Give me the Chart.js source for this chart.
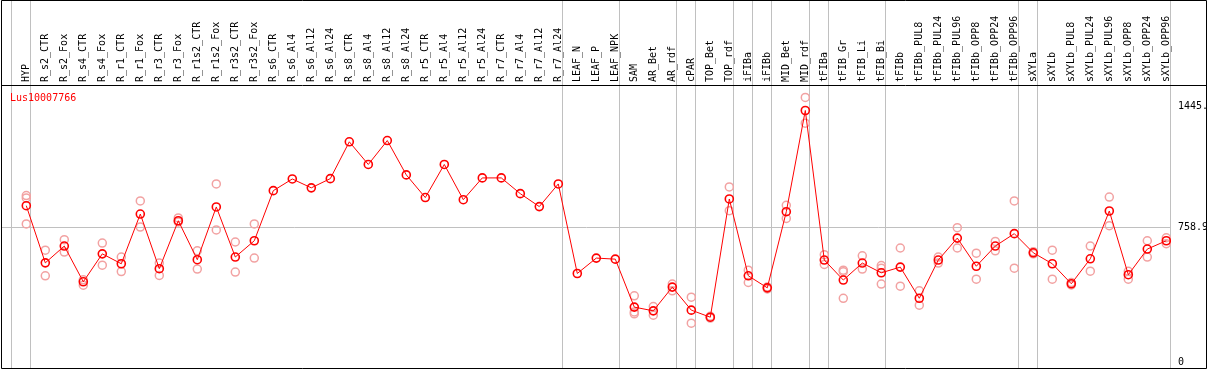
<!DOCTYPE html>
<html>
<head>
<meta charset="utf-8">
<script src="https://cdn.jsdelivr.net/npm/chart.js@4"></script>
<style>
  body { margin: 0; background: #fff; }
  canvas { display: block; }
</style>
</head>
<body>
<canvas id="chart" width="1209" height="370"></canvas>
<script>
const geneName = 'Lus10007766';

const categories = [
  'HYP', 'R_s2_CTR', 'R_s2_Fox', 'R_s4_CTR', 'R_s4_Fox', 'R_r1_CTR', 'R_r1_Fox', 'R_r3_CTR', 'R_r3_Fox',
  'R_r1s2_CTR', 'R_r1s2_Fox', 'R_r3s2_CTR', 'R_r3s2_Fox', 'R_s6_CTR', 'R_s6_Al4', 'R_s6_Al12', 'R_s6_Al24',
  'R_s8_CTR', 'R_s8_Al4', 'R_s8_Al12', 'R_s8_Al24', 'R_r5_CTR', 'R_r5_Al4', 'R_r5_Al12', 'R_r5_Al24',
  'R_r7_CTR', 'R_r7_Al4', 'R_r7_Al12', 'R_r7_Al24', 'LEAF_N', 'LEAF_P', 'LEAF_NPK', 'SAM', 'AR_Bet', 'AR_rdf',
  'cPAR', 'TOP_Bet', 'TOP_rdf', 'iFIBa', 'iFIBb', 'MID_Bet', 'MID_rdf', 'tFIBa', 'tFIB_Gr', 'tFIB_Li', 'tFIB_Bi',
  'tFIBb', 'tFIBb_PUL8', 'tFIBb_PUL24', 'tFIBb_PUL96', 'tFIBb_OPP8', 'tFIBb_OPP24', 'tFIBb_OPP96',
  'sXYLa', 'sXYLb', 'sXYLb_PUL8', 'sXYLb_PUL24', 'sXYLb_PUL96', 'sXYLb_OPP8', 'sXYLb_OPP24', 'sXYLb_OPP96'
];

const means = [
  883, 560, 655, 453, 611, 555, 836, 527, 798, 578, 876, 593, 685,
  968, 1034, 984, 1036, 1244, 1116, 1251, 1057, 929, 1116, 917, 1040, 1040, 951, 878, 1006,
  500, 587, 581, 310, 289, 423, 293, 253, 921, 487, 419, 849, 1421,
  576, 463, 559, 504, 536, 360, 576, 700, 541, 655, 725,
  617, 555, 442, 583, 853, 493, 638, 685
];

const rep1 = [
  940, 632, 691, 464, 672, 593, 910, 559, 814, 628, 1006, 678, 780,
  null, null, null, null, null, null, null, null, null, null, null, null, null, null, null, null,
  null, null, null, 374, 313, 440, 366, 258, 989, 519, 424, 885, 1495,
  606, 519, 600, 545, 644, 402, 593, 759, 615, 681, 910,
  623, 632, 449, 655, 932, 512, 685, 702
];
const rep2 = [
  927, 487, 621, 434, 547, 511, 762, 489, 791, 525, 746, 508, 587,
  null, null, null, null, null, null, null, null, null, null, null, null, null, null, null, null,
  null, null, null, 283, 264, 402, 219, 248, 855, 449, 413, 811, 1349,
  551, 360, 525, 530, 428, 321, 559, 644, 468, 628, 530,
  611, 468, 435, 513, 770, 468, 593, 668
];
const rep3 = [
  780, null, null, null, null, null, null, null, null, null, null, null, null,
  null, null, null, null, null, null, null, null, null, null, null, null, null, null, null, null,
  null, null, null, 272, null, null, null, null, null, null, null, null, null,
  null, 510, null, 440, null, null, null, null, null, null, null,
  null, null, null, null, null, null, null, null
];

const yTicks = [0, 758.9, 1445.8];
// gray separators sit just right of these category indices
const groupEnds = [-1, 0, 28, 31, 34, 35, 37, 38, 39, 41, 42, 45, 52, 53, 60];

const monoFont = 'DejaVu Sans Mono';
const toPoints = arr => arr.map((v, i) => ({ x: i, y: v })).filter(p => p.y !== null);

const framePlugin = {
  id: 'frame',
  beforeDatasetsDraw(chart) {
    const { ctx, chartArea, scales } = chart;
    ctx.save();
    ctx.strokeStyle = '#c0c0c0';
    ctx.lineWidth = 1;
    groupEnds.forEach(i => {
      const x = Math.round(scales.x.getPixelForValue(i) + 4) + 0.5;
      ctx.beginPath();
      ctx.moveTo(x, 0);
      ctx.lineTo(x, chartArea.bottom);
      ctx.stroke();
    });
    ctx.restore();
  },
  afterDraw(chart) {
    const { ctx, chartArea } = chart;
    ctx.save();
    ctx.fillStyle = '#fff';
    ctx.fillRect(1207, 0, 10, chart.height);
    ctx.strokeStyle = '#000';
    ctx.lineWidth = 1;
    ctx.beginPath();
    ctx.rect(1.5, 0.5, 1205, Math.round(chartArea.bottom));
    ctx.moveTo(1, chartArea.top + 0.5);
    ctx.lineTo(1207, chartArea.top + 0.5);
    ctx.stroke();
    ctx.fillStyle = '#ff0000';
    ctx.font = '10px "' + monoFont + '"';
    ctx.textBaseline = 'alphabetic';
    ctx.fillText(geneName, 10, chartArea.top + 16);
    ctx.restore();
  }
};

const repStyle = {
  showLine: false,
  pointRadius: 4,
  pointBorderWidth: 1.5,
  pointBorderColor: '#f2a2a2',
  pointBackgroundColor: 'rgba(0,0,0,0)',
  order: 1
};

new Chart(document.getElementById('chart'), {
  type: 'scatter',
  data: {
    datasets: [
      { label: 'mean', data: toPoints(means), showLine: true, borderColor: '#ff0000', borderWidth: 1,
        pointRadius: 4, pointBorderWidth: 1.6, pointBorderColor: '#ff0000',
        pointBackgroundColor: 'rgba(0,0,0,0)', order: 0 },
      { label: 'rep1', data: toPoints(rep1), ...repStyle },
      { label: 'rep2', data: toPoints(rep2), ...repStyle },
      { label: 'rep3', data: toPoints(rep3), ...repStyle }
    ]
  },
  options: {
    responsive: false,
    animation: false,
    layout: { autoPadding: false, padding: { left: 2, bottom: 2, top: 0, right: 0 } },
    plugins: { legend: { display: false }, tooltip: { enabled: false } },
    scales: {
      x: {
        type: 'linear', position: 'top',
        min: (2 - 26.3) / 19, max: (1171 - 26.3) / 19,
        afterBuildTicks: s => { s.ticks = categories.map((c, i) => ({ value: i })); },
        afterFit: s => { s.height = 85; s.paddingLeft = 0; s.paddingRight = 0; },
        grid: { display: false, drawTicks: false },
        border: { display: false },
        ticks: { autoSkip: false, minRotation: 90, maxRotation: 90, padding: 3, labelOffset: 12,
                 color: '#000', font: { family: monoFont, size: 10 }, callback: v => categories[v] }
      },
      y: {
        position: 'right', min: -34, max: 1565,
        afterBuildTicks: s => { s.ticks = yTicks.map(v => ({ value: v })); },
        afterFit: s => { s.width = 38; s.paddingTop = 0; s.paddingBottom = 0; },
        grid: { drawTicks: false, color: c => (c.tick && c.tick.value === 758.9) ? '#c0c0c0' : 'rgba(0,0,0,0)' },
        border: { display: false },
        ticks: { padding: 7, color: '#000', font: { family: monoFont, size: 10 }, callback: v => String(v) }
      }
    }
  },
  plugins: [framePlugin]
});
</script>
</body>
</html>
